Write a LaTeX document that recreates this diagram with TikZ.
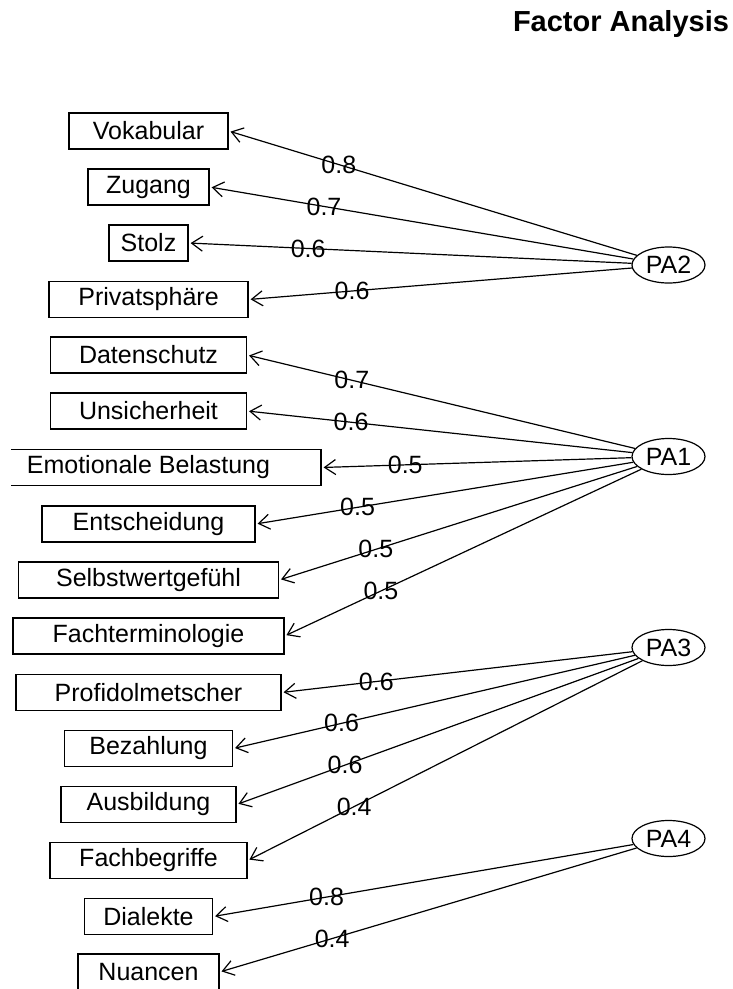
\documentclass[tikz,border=0pt]{standalone}
\usepackage{fontspec}
\setmainfont{Liberation Sans}
\usetikzlibrary{arrows.meta,shapes.geometric}
\tikzset{
  item/.style={draw, line width=1.2pt, minimum width=#1, minimum height=36pt, inner sep=0pt, font=\fontsize{25}{29}\selectfont},
  factor/.style={draw, ellipse, line width=1.2pt, minimum width=73pt, minimum height=36pt, inner sep=0pt, font=\fontsize{25}{29}\selectfont},
  load/.style={line width=1.2pt, -{Straight Barb[length=11pt,width=15pt]}, shorten >=2pt},
  loadlabel/.style={pos=0.73, inner sep=0pt, font=\fontsize{25}{29}\selectfont}
}
\begin{document}
\begin{tikzpicture}[x=1pt, y=-1pt]
        \useasboundingbox (0,0) rectangle (733,989);
        \clip (11,0) rectangle (733,989);
        \node[anchor=base, font=\bfseries\fontsize{29}{34}\selectfont] (title) at (621,31) {Factor Analysis};
        % observed variables
        \node[item=159pt] (vok) at (148.5,131) {Vokabular};
        \node[item=121pt] (zug) at (148.5,187) {Zugang};
        \node[item=79pt] (sto) at (148.5,243) {Stolz};
        \node[item=199pt] (pri) at (148.5,299.5) {Privatsphäre};
        \node[item=196pt] (dat) at (148.5,355) {Datenschutz};
        \node[item=196pt] (uns) at (148.5,411) {Unsicherheit};
        \node[item=345pt] (emo) at (148.5,467.5) {Emotionale Belastung};
        \node[item=213pt] (ent) at (148.5,524) {Entscheidung};
        \node[item=260pt] (sel) at (148.5,580) {Selbstwertgefühl};
        \node[item=271pt] (fat) at (148.5,636) {Fachterminologie};
        \node[item=265pt] (pro) at (148.5,692.5) {Profidolmetscher};
        \node[item=168pt] (bez) at (148.5,748.5) {Bezahlung};
        \node[item=175pt] (aus) at (148.5,804.5) {Ausbildung};
        \node[item=197pt] (fab) at (148.5,860.5) {Fachbegriffe};
        \node[item=128pt] (dia) at (148.5,916.5) {Dialekte};
        \node[item=141pt] (nua) at (148.5,972) {Nuancen};
        % factors
        \node[factor] (pa2) at (668.5,265) {PA2};
        \node[factor] (pa1) at (668.5,456.5) {PA1};
        \node[factor] (pa3) at (668.5,647.5) {PA3};
        \node[factor] (pa4) at (668.5,838.5) {PA4};
        % loadings
        \draw[load] (pa2) -- node[loadlabel] {0.8} (vok.east);
        \draw[load] (pa2) -- node[loadlabel] {0.7} (zug.east);
        \draw[load] (pa2) -- node[loadlabel] {0.6} (sto.east);
        \draw[load] (pa2) -- node[loadlabel] {0.6} (pri.east);
        \draw[load] (pa1) -- node[loadlabel] {0.7} (dat.east);
        \draw[load] (pa1) -- node[loadlabel] {0.6} (uns.east);
        \draw[load] (pa1) -- node[loadlabel] {0.5} (emo.east);
        \draw[load] (pa1) -- node[loadlabel] {0.5} (ent.east);
        \draw[load] (pa1) -- node[loadlabel] {0.5} (sel.east);
        \draw[load] (pa1) -- node[loadlabel] {0.5} (fat.east);
        \draw[load] (pa3) -- node[loadlabel] {0.6} (pro.east);
        \draw[load] (pa3) -- node[loadlabel] {0.6} (bez.east);
        \draw[load] (pa3) -- node[loadlabel] {0.6} (aus.east);
        \draw[load] (pa3) -- node[loadlabel] {0.4} (fab.east);
        \draw[load] (pa4) -- node[loadlabel] {0.8} (dia.east);
        \draw[load] (pa4) -- node[loadlabel] {0.4} (nua.east);
\end{tikzpicture}
\end{document}
